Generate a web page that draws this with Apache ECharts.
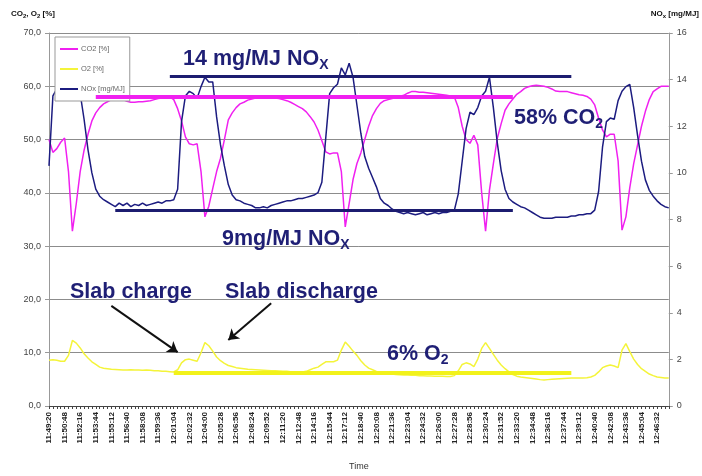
<!DOCTYPE html>
<html>
<head>
<meta charset="utf-8">
<script src="https://cdn.jsdelivr.net/npm/echarts@6/dist/echarts.min.js"></script>
<style>
  html, body { margin: 0; padding: 0; background: #fff; }
  #chart { width: 702px; height: 476px; }
</style>
</head>
<body>
<div id="chart"></div>
<script>
// time stamps, one sample every 22 s starting 11:49:20 (label every 4th = 88 s)
var startSec = 11 * 3600 + 49 * 60 + 20;
var stepSec = 22;
var nPoints = 160;
var categories = [];
for (var i = 0; i < nPoints; i++) {
    var t = startSec + i * stepSec;
    var h = Math.floor(t / 3600), m = Math.floor((t % 3600) / 60), s = t % 60;
    categories.push(h + ':' + (m < 10 ? '0' : '') + m + ':' + (s < 10 ? '0' : '') + s);
}

var co2 = [
    50, 47.6, 48.3, 49.5, 50.3, 44, 32.8, 38, 44, 48,
    51, 53.5, 55, 56, 56.7, 57.1, 57.5, 57.8, 57.8, 57.5,
    57.2, 57, 57, 57.1, 57.1, 57.2, 57.3, 57.5, 57.7, 57.8,
    57.9, 58, 57.5, 55.8, 53.5, 50.5, 49.2, 49, 49.2, 44,
    35.5, 37.5, 40.8, 44, 46.5, 50, 53.7, 55, 56, 56.7,
    57, 57.4, 57.6, 57.8, 57.8, 57.8, 57.9, 57.8, 57.8, 57.7,
    57.5, 57.3, 57, 56.6, 56.2, 55.8, 55.2, 54.3, 53.3, 51.8,
    49.8, 47.7, 47.3, 47.5, 47.5, 44, 33.6, 38, 42.5, 45.5,
    47.5, 50, 52.5, 54.5, 55.8, 56.8, 57.3, 57.5, 57.7, 57.9,
    58.1, 58.3, 58.7, 59, 59, 58.9, 58.9, 58.8, 58.7, 58.6,
    58.5, 58.4, 58.3, 58.2, 58, 56, 52.5, 50, 49.3, 50.8,
    49, 40, 32.8, 40.5, 45.5, 50.2, 53, 55.5, 56.7, 57.6,
    58.5, 59, 59.6, 59.9, 60.1, 60.2, 60.1, 60, 59.8, 59.5,
    59.1, 59, 59, 59, 58.8, 58.6, 58.4, 58.3, 58.1, 57.6,
    56.5, 54, 51.8, 50.5, 51, 51, 46, 33, 35.5, 41,
    45.5, 49, 52.5, 55.3, 57.5, 59, 59.5, 60, 60, 60
];

var o2 = [
    8.6, 8.7, 8.6, 8.4, 8.4, 9.5, 12.3, 11.8, 10.9, 9.8,
    9, 8.3, 7.8, 7.3, 7.1, 7, 6.9, 6.85, 6.8, 6.75,
    6.75, 6.8, 6.75, 6.75, 6.7, 6.75, 6.7, 6.6, 6.6, 6.5,
    6.5, 6.45, 6.4, 6.8, 8.1, 8.7, 8.8, 8.6, 8.4, 10,
    11.9, 11.3, 10.3, 9.2, 8.5, 8, 7.6, 7.4, 7.2, 7.1,
    7, 6.9, 6.85, 6.8, 6.75, 6.7, 6.65, 6.6, 6.6, 6.55,
    6.5, 6.5, 6.45, 6.45, 6.4, 6.4, 6.5, 6.8, 7.1, 7.3,
    7.8, 8.3, 8.3, 8.3, 8.6, 10.5, 12, 11.2, 10.3, 9.5,
    8.5, 7.7, 7.1, 6.8, 6.5, 6.3, 6.2, 6.1, 6, 5.9,
    5.85, 5.8, 5.8, 5.75, 5.75, 5.7, 5.7, 5.65, 5.65, 5.6,
    5.6, 5.6, 5.55, 5.55, 5.7, 6.6, 7.8, 8.1, 7.9, 7.4,
    8.8, 10.8, 11.9, 10.8, 9.7, 8.6, 7.7, 7, 6.4, 5.9,
    5.6, 5.45, 5.35, 5.25, 5.15, 5.05, 4.95, 4.9, 4.95, 5,
    5.05, 5.1, 5.15, 5.2, 5.25, 5.25, 5.25, 5.25, 5.3, 5.45,
    5.75, 6.4, 7.2, 7.5, 7.7, 7.5, 7.2, 10.5, 11.7, 10.2,
    8.8, 7.8, 7, 6.5, 6, 5.7, 5.45, 5.35, 5.25, 5.25
];

var nox = [
    10.3, 13.3, 13.6, 13.4, 13.2, 13.5, 13.6, 13.4, 13.4, 12.3,
    11, 10, 9.3, 9, 8.85, 8.75, 8.65, 8.55, 8.7, 8.6,
    8.7, 8.55, 8.65, 8.6, 8.7, 8.6, 8.65, 8.7, 8.75, 8.7,
    8.8, 8.8, 8.85, 9.3, 12.2, 13.3, 13.5, 13.4, 13.2, 13.7,
    14.1, 13.9, 13.9, 12.4, 11.2, 10.3, 9.5, 9.05, 8.85, 8.8,
    8.7, 8.65, 8.6, 8.5, 8.5, 8.55, 8.5, 8.6, 8.65, 8.7,
    8.75, 8.8, 8.8, 8.85, 8.9, 8.9, 8.95, 9, 9.05, 9.15,
    9.6, 11.5, 13.4, 13.65, 13.8, 14.5, 14.2, 14.7, 14.1, 12.9,
    11.7, 10.7, 10.2, 9.8, 9.4, 8.9, 8.7, 8.6, 8.45, 8.35,
    8.3, 8.25, 8.3, 8.25, 8.2, 8.25, 8.3, 8.2, 8.25, 8.3,
    8.25, 8.3, 8.3, 8.35, 8.4, 9.1, 10.5, 11.9, 12.6, 12.5,
    12.8, 13.3, 13.5, 14.1, 12.8, 11.3, 10.1, 9.3, 8.9, 8.75,
    8.65, 8.55, 8.5, 8.4, 8.3, 8.2, 8.1, 8.05, 8.05, 8.05,
    8.1, 8.1, 8.1, 8.1, 8.15, 8.15, 8.2, 8.2, 8.25, 8.25,
    8.4, 9.2, 11.1, 12.2, 12.35, 12.3, 13.1, 13.5, 13.7, 13.8,
    12.8, 11.6, 10.5, 9.7, 9.25, 9, 8.8, 8.65, 8.55, 8.5
];

var leftTicks = { min: 0, max: 70, step: 10 };
var rightTicks = { min: 0, max: 16, step: 2 };

var navy = '#1f1f75';
var subRich = {
    b: { fontFamily: 'Liberation Sans', fontWeight: 'bold', fontSize: 21.5, fill: navy },
    s: { fontFamily: 'Liberation Sans', fontWeight: 'bold', fontSize: 14, fill: navy, padding: [12, 0, 0, 0] }
};

function note(left, top, main, sub) {
    return {
        type: 'text', left: left, top: top, z: 20,
        style: { text: '{b|' + main + '}' + (sub ? '{s|' + sub + '}' : ''), fill: navy, rich: subRich }
    };
}

var option = {
    animation: false,
    backgroundColor: '#fff',
    textStyle: { fontFamily: 'Liberation Sans' },
    grid: { left: 49, right: 30, top: 33, bottom: 70 },
    legend: {
        orient: 'vertical',
        left: 55, top: 37,
        backgroundColor: '#fff',
        borderColor: '#999', borderWidth: 1,
        padding: [8, 5, 8, 5],
        itemGap: 12,
        itemWidth: 18, itemHeight: 2,
        icon: 'rect',
        textStyle: { fontSize: 7.5, color: '#666', padding: [0, 0, 0, -2] },
        data: ['CO2 [%]', 'O2 [%]', 'NOx [mg/MJ]']
    },
    xAxis: {
        type: 'category',
        boundaryGap: false,
        data: categories,
        name: 'Time',
        nameLocation: 'middle',
        nameGap: 56,
        nameTextStyle: { fontSize: 9, color: '#333' },
        axisLine: { lineStyle: { color: '#444', width: 1 } },
        axisTick: { show: true, interval: 0, length: 3, lineStyle: { color: '#444' } },
        axisLabel: { interval: 3, rotate: 90, fontSize: 8, fontWeight: 'bold', color: '#222', margin: 6 },
        splitLine: { show: false }
    },
    yAxis: [
        {
            type: 'value',
            min: leftTicks.min, max: leftTicks.max, interval: leftTicks.step,
            name: '{a|CO}{s|2}{a|, O}{s|2}{a| [%]}',
            nameLocation: 'end',
            nameGap: 14,
            nameTextStyle: {
                align: 'right', padding: [0, -6, 0, 0],
                rich: {
                    a: { fontSize: 8, fontWeight: 'bold', color: '#111' },
                    s: { fontSize: 6, fontWeight: 'bold', color: '#111', padding: [4, 0, 0, 0] }
                }
            },
            axisLine: { show: true, lineStyle: { color: '#999' } },
            axisTick: { show: true, length: 4, lineStyle: { color: '#999' } },
            axisLabel: {
                fontSize: 9, color: '#444', margin: 8,
                formatter: function (v) { return v.toFixed(1).replace('.', ','); }
            },
            splitLine: { show: true, lineStyle: { color: '#8c8c8c', width: 1 } }
        },
        {
            type: 'value',
            min: rightTicks.min, max: rightTicks.max, interval: rightTicks.step,
            name: '{a|NO}{s|x}{a| [mg/MJ]}',
            nameLocation: 'end',
            nameGap: 14,
            nameTextStyle: {
                align: 'left', padding: [0, 0, 0, -18],
                rich: {
                    a: { fontSize: 8, fontWeight: 'bold', color: '#111' },
                    s: { fontSize: 6, fontWeight: 'bold', color: '#111', padding: [4, 0, 0, 0] }
                }
            },
            axisLine: { show: true, lineStyle: { color: '#999' } },
            axisTick: { show: true, length: 4, lineStyle: { color: '#999' } },
            axisLabel: { fontSize: 9, color: '#444', margin: 8 },
            splitLine: { show: false }
        }
    ],
    series: [
        {
            name: 'CO2 [%]', type: 'line', yAxisIndex: 0, data: co2,
            symbol: 'none', smooth: false,
            lineStyle: { color: '#f020f0', width: 1.5 }, itemStyle: { color: '#f020f0' },
            markLine: {
                silent: true, symbol: 'none', label: { show: false },
                lineStyle: { color: '#f020f0', width: 4, type: 'solid' },
                data: [[{ coord: [12, 58] }, { coord: [119, 58] }]]
            }
        },
        {
            name: 'O2 [%]', type: 'line', yAxisIndex: 0, data: o2,
            symbol: 'none',
            lineStyle: { color: '#f4f43a', width: 1.5 }, itemStyle: { color: '#f4f43a' },
            markLine: {
                silent: true, label: { show: false },
                lineStyle: { type: 'solid' },
                data: [
                    [{ coord: [32, 6.2], symbol: 'none', lineStyle: { color: '#f2f21a', width: 4, type: 'solid' } },
                     { coord: [134, 6.2], symbol: 'none' }],
                    [{ coord: [16, 18.8], symbol: 'none', lineStyle: { color: '#111', width: 2, type: 'solid' } },
                     { coord: [33, 10.1], symbol: 'arrow', symbolSize: 10 }],
                    [{ coord: [57, 19.3], symbol: 'none', lineStyle: { color: '#111', width: 2, type: 'solid' } },
                     { coord: [46, 12.4], symbol: 'arrow', symbolSize: 10 }]
                ]
            }
        },
        {
            name: 'NOx [mg/MJ]', type: 'line', yAxisIndex: 1, data: nox,
            symbol: 'none',
            lineStyle: { color: '#1c1c80', width: 1.5 }, itemStyle: { color: '#1c1c80' },
            markLine: {
                silent: true, symbol: 'none', label: { show: false },
                lineStyle: { color: '#1c1c70', width: 3, type: 'solid' },
                data: [
                    [{ coord: [31, 14.15] }, { coord: [134, 14.15] }],
                    [{ coord: [17, 8.4] }, { coord: [119, 8.4] }]
                ]
            }
        }
    ],
    graphic: [
        note(183, 48, '14 mg/MJ NO', 'X'),
        note(514, 107, '58% CO', '2'),
        note(222, 228, '9mg/MJ NO', 'X'),
        note(70, 281, 'Slab charge'),
        note(225, 281, 'Slab discharge'),
        note(387, 343, '6% O', '2')
    ]
};

var myChart = echarts.init(document.getElementById('chart'));
myChart.setOption(option);
</script>
</body>
</html>
